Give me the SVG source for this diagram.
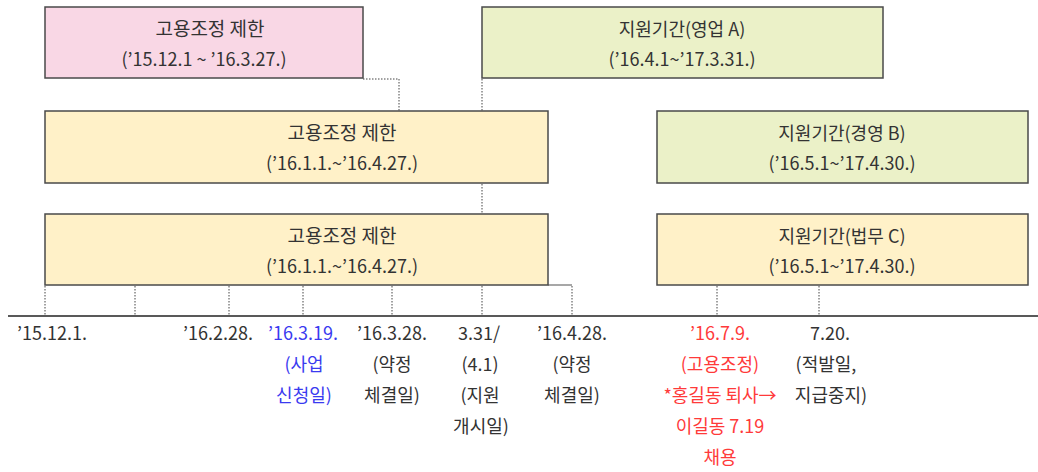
<svg xmlns="http://www.w3.org/2000/svg" width="1038" height="472" viewBox="0 0 1038 472">
  <style>
    .box { stroke: #4a4a4a; stroke-width: 1.5; }
    .pink { fill: #f9d7e5; }
    .yel { fill: #fff1c8; }
    .grn { fill: #ebf1c8; }
    text { font-family: "Noto Sans CJK KR", "Noto Sans", sans-serif; font-size: 18px; fill: #333333; text-anchor: middle; }
    .k { font-size: 19px; }
    .blue { fill: #3a3af0; }
    .red { fill: #ff3a3a; }
    .dot { stroke: #444444; stroke-width: 1; stroke-dasharray: 1.5 1.5; fill: none; }
    .gray { stroke: #8a8a8a; stroke-width: 1.5; fill: none; }
  </style>
  <rect width="1038" height="472" fill="#ffffff"/>

  <g id="connectors">
    <line class="dot" x1="482" y1="79" x2="482" y2="316"/>
    <polyline class="dot" points="363,79 399,79 399,111"/>
    <line class="gray" x1="548" y1="285" x2="572" y2="285"/>
    <line class="dot" x1="45" y1="286" x2="45" y2="316"/>
    <line class="dot" x1="135" y1="286" x2="135" y2="316"/>
    <line class="dot" x1="229" y1="286" x2="229" y2="316"/>
    <line class="dot" x1="303" y1="286" x2="303" y2="316"/>
    <line class="dot" x1="392" y1="286" x2="392" y2="316"/>
    <line class="dot" x1="572" y1="286" x2="572" y2="316"/>
    <line class="dot" x1="717" y1="286" x2="717" y2="316"/>
    <line class="dot" x1="819" y1="286" x2="819" y2="316"/>
    <line x1="8" y1="316" x2="1038" y2="316" stroke="#222222" stroke-width="1.5"/>
  </g>

  <g id="box-pink">
    <rect class="box pink" x="45" y="7" width="318" height="71"/>
    <text class="k" x="210" y="36">고용조정 제한</text>
    <text x="204" y="66">(’15.12.1 ~ ’16.3.27.)</text>
  </g>
  <g id="box-A">
    <rect class="box grn" x="482" y="7" width="401" height="71"/>
    <text x="682" y="36">지원기간(영업 A)</text>
    <text x="682" y="66">(’16.4.1~’17.3.31.)</text>
  </g>
  <g id="box-2">
    <rect class="box yel" x="45" y="111" width="503" height="72"/>
    <text class="k" x="342" y="140">고용조정 제한</text>
    <text x="342" y="170">(’16.1.1.~’16.4.27.)</text>
  </g>
  <g id="box-B">
    <rect class="box grn" x="657" y="111" width="371" height="72"/>
    <text x="842" y="140">지원기간(경영 B)</text>
    <text x="842" y="170">(’16.5.1~’17.4.30.)</text>
  </g>
  <g id="box-3">
    <rect class="box yel" x="45" y="214" width="503" height="71"/>
    <text class="k" x="342" y="243">고용조정 제한</text>
    <text x="342" y="273">(’16.1.1.~’16.4.27.)</text>
  </g>
  <g id="box-C">
    <rect class="box yel" x="657" y="214" width="371" height="71"/>
    <text x="842" y="243">지원기간(법무 C)</text>
    <text x="842" y="273">(’16.5.1~’17.4.30.)</text>
  </g>

  <g id="label-151201"><text x="52" y="340">’15.12.1.</text></g>
  <g id="label-160228"><text x="218" y="340">’16.2.28.</text></g>
  <g id="label-160319">
    <text class="blue" x="303" y="340">’16.3.19.</text>
    <text class="blue" x="304" y="371">(사업</text>
    <text class="blue" x="304" y="402">신청일)</text>
  </g>
  <g id="label-160328">
    <text x="392" y="340">’16.3.28.</text>
    <text x="392" y="371">(약정</text>
    <text x="392" y="402">체결일)</text>
  </g>
  <g id="label-0331">
    <text x="479" y="340">3.31/</text>
    <text x="480" y="371">(4.1)</text>
    <text x="480" y="402">(지원</text>
    <text x="481" y="433">개시일)</text>
  </g>
  <g id="label-160428">
    <text x="572" y="340">’16.4.28.</text>
    <text x="572" y="371">(약정</text>
    <text x="572" y="402">체결일)</text>
  </g>
  <g id="label-160709">
    <text class="red" x="720" y="340">’16.7.9.</text>
    <text class="red" x="720" y="371">(고용조정)</text>
    <text class="red" x="720" y="402">*홍길동 퇴사→</text>
    <text class="red" x="720" y="433">이길동 7.19</text>
    <text class="red" x="720" y="464">채용</text>
  </g>
  <g id="label-0720">
    <text x="830" y="340">7.20.</text>
    <text x="826" y="371">(적발일,</text>
    <text x="831" y="402">지급중지)</text>
  </g>
</svg>
